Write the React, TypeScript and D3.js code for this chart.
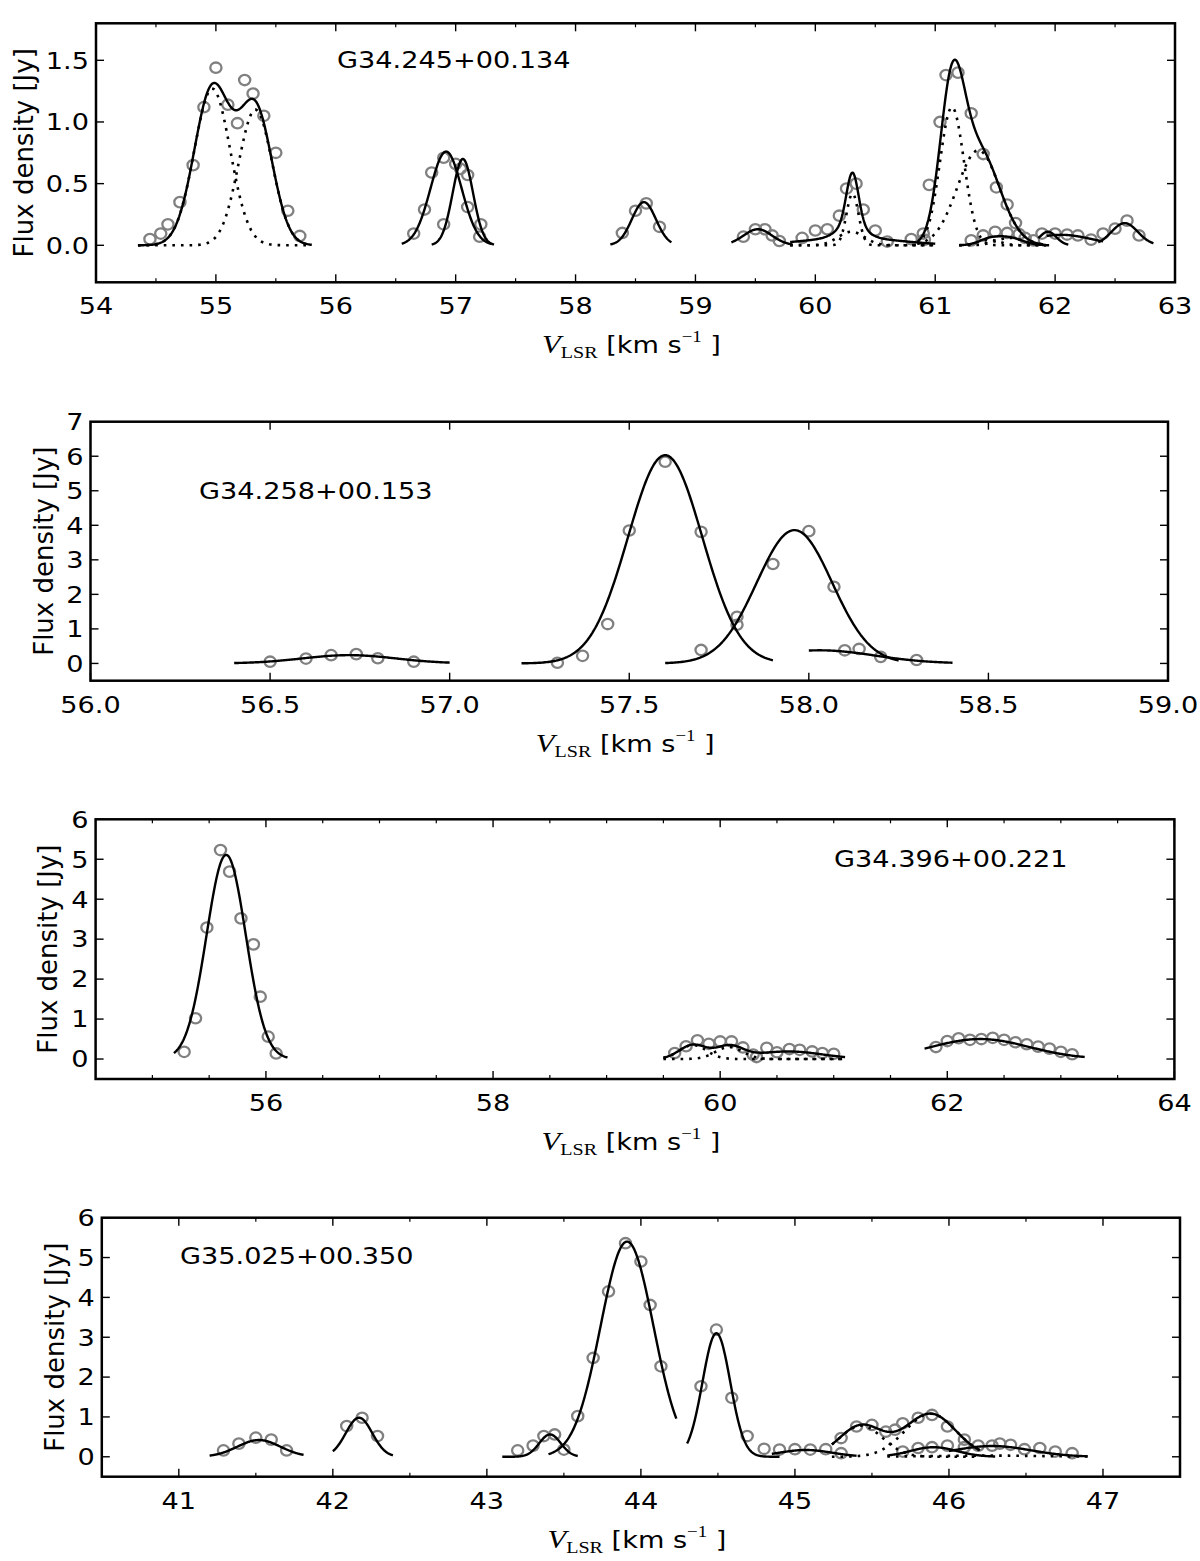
import React from 'react';
import * as d3 from 'd3';

// ---------------- DATA ----------------
// Each point: [V_LSR (km/s), flux density (Jy)]
// Each fit component: [amplitude (Jy), centre (km/s), sigma (km/s)]

// Panel 1: G34.245+00.134
const p1Name = 'G34.245+00.134';
const p1Points: [number, number][] = [
  [54.45, 0.05], [54.54, 0.095], [54.60, 0.17], [54.70, 0.35], [54.81, 0.65], [54.90, 1.12], [55.00, 1.44],
  [55.10, 1.14], [55.18, 0.99], [55.24, 1.34], [55.31, 1.23], [55.40, 1.05], [55.50, 0.75], [55.60, 0.28], [55.70, 0.076],
  [56.65, 0.095], [56.74, 0.29], [56.80, 0.59], [56.90, 0.71], [56.90, 0.17], [57.00, 0.66], [57.04, 0.62],
  [57.10, 0.57], [57.10, 0.31], [57.21, 0.17], [57.20, 0.07],
  [58.39, 0.10], [58.50, 0.28], [58.59, 0.34], [58.70, 0.15],
  [59.40, 0.07], [59.50, 0.13], [59.58, 0.13], [59.64, 0.08], [59.70, 0.035],
  [59.89, 0.06], [60.00, 0.12], [60.10, 0.13], [60.20, 0.24], [60.26, 0.46], [60.34, 0.50], [60.40, 0.29],
  [60.50, 0.12], [60.60, 0.03], [60.80, 0.05], [60.90, 0.095], [60.91, 0.046],
  [60.95, 0.49], [61.04, 1.00], [61.09, 1.38], [61.19, 1.40], [61.30, 1.07], [61.40, 0.74], [61.51, 0.47],
  [61.60, 0.33], [61.67, 0.18],
  [61.30, 0.04], [61.40, 0.08], [61.50, 0.11], [61.60, 0.10], [61.70, 0.09], [61.75, 0.06], [61.82, 0.04],
  [61.89, 0.095], [62.00, 0.095], [62.10, 0.087], [62.19, 0.08], [62.30, 0.046], [62.40, 0.095], [62.50, 0.135],
  [62.60, 0.20], [62.70, 0.08],
];
const p1FitRanges: [number, number][] = [
  [54.35, 55.8], [56.55, 57.3], [56.8, 57.32], [58.29, 58.8], [59.3, 59.81], [59.79, 61.0],
  [60.85, 61.9], [61.2, 61.95], [61.86, 62.11], [61.93, 62.4], [62.36, 62.82],
];
const p1FitComps: [number, number, number][][] = [
  [[1.27, 54.97, 0.15], [1.1, 55.33, 0.14]],
  [[0.76, 56.92, 0.13]],
  [[0.70, 57.06, 0.085]],
  [[0.35, 58.57, 0.1]],
  [[0.13, 59.52, 0.12]],
  [[0.42, 60.31, 0.05], [0.11, 60.3, 0.11], [0.06, 60.3, 0.4]],
  [[1.12, 61.14, 0.1], [0.77, 61.36, 0.177]],
  [[0.045, 61.45, 0.09], [0.06, 61.62, 0.11]],
  [[0.11, 61.94, 0.07]],
  [[0.085, 62.05, 0.25]],
  [[0.18, 62.58, 0.11]],
];
const p1FitDotted: number[][] = [[0, 1], [], [], [], [], [0, 1], [0, 1], [0, 1], [], [], []];
const p1XTicks = [54, 55, 56, 57, 58, 59, 60, 61, 62, 63];
const p1XMinor = [54.5, 55.5, 56.5, 57.5, 58.5, 59.5, 60.5, 61.5, 62.5];
const p1YTicks = [0, 0.5, 1.0, 1.5];

// Panel 2: G34.258+00.153
const p2Name = 'G34.258+00.153';
const p2Points: [number, number][] = [
  [56.50, 0.05], [56.60, 0.14], [56.67, 0.24], [56.74, 0.27], [56.80, 0.15], [56.90, 0.05],
  [57.30, 0.02], [57.37, 0.22], [57.44, 1.14], [57.50, 3.85], [57.60, 5.84], [57.70, 3.81], [57.70, 0.39],
  [57.80, 1.35], [57.80, 1.12], [57.90, 2.88], [58.00, 3.83], [58.07, 2.22], [58.10, 0.38], [58.14, 0.42],
  [58.20, 0.19], [58.30, 0.10],
];
const p2FitRanges: [number, number][] = [[56.4, 57.0], [57.2, 57.9], [57.6, 58.25], [58.0, 58.4]];
const p2FitComps: [number, number, number][][] = [
  [[0.24, 56.72, 0.13]],
  [[6.03, 57.60, 0.1035]],
  [[3.86, 57.96, 0.105]],
  [[0.38, 58.03, 0.153]],
];
const p2FitDotted: number[][] = [[], [], [], []];
const p2XTicks = [56.0, 56.5, 57.0, 57.5, 58.0, 58.5, 59.0];
const p2XMinor: number[] = [];
const p2YTicks = [0, 1, 2, 3, 4, 5, 6, 7];

// Panel 3: G34.396+00.221
const p3Name = 'G34.396+00.221';
const p3Points: [number, number][] = [
  [55.28, 0.18], [55.38, 1.02], [55.48, 3.29], [55.60, 5.23], [55.68, 4.69], [55.78, 3.52], [55.89, 2.87],
  [55.95, 1.56], [56.02, 0.56], [56.09, 0.14],
  [59.60, 0.15], [59.70, 0.32], [59.80, 0.47], [59.90, 0.38], [60.00, 0.44], [60.10, 0.44], [60.20, 0.29],
  [60.29, 0.11], [60.32, 0.05], [60.41, 0.28], [60.50, 0.17], [60.61, 0.25], [60.70, 0.23], [60.81, 0.19],
  [60.90, 0.15], [61.00, 0.13],
  [61.90, 0.30], [62.00, 0.45], [62.10, 0.52], [62.20, 0.48], [62.30, 0.50], [62.40, 0.53], [62.50, 0.48],
  [62.60, 0.42], [62.70, 0.37], [62.80, 0.31], [62.90, 0.26], [63.00, 0.18], [63.10, 0.12],
];
const p3FitRanges: [number, number][] = [[55.19, 56.19], [59.5, 61.1], [61.8, 63.21]];
const p3FitComps: [number, number, number][][] = [
  [[5.11, 55.65, 0.173]],
  [[0.35, 59.76, 0.12], [0.30, 60.08, 0.12], [0.19, 60.6, 0.3]],
  [[0.5, 62.29, 0.43]],
];
const p3FitDotted: number[][] = [[], [0, 1], []];
const p3XTicks = [56, 58, 60, 62, 64];
const p3XMinor = [55, 55.5, 56.5, 57, 57.5, 58.5, 59, 59.5, 60.5, 61, 61.5, 62.5, 63, 63.5];
const p3YTicks = [0, 1, 2, 3, 4, 5, 6];

// Panel 4: G35.025+00.350
const p4Name = 'G35.025+00.350';
const p4Points: [number, number][] = [
  [41.29, 0.16], [41.39, 0.33], [41.50, 0.48], [41.60, 0.43], [41.70, 0.16],
  [42.09, 0.77], [42.19, 0.98], [42.29, 0.52],
  [43.20, 0.16], [43.30, 0.28], [43.37, 0.52], [43.44, 0.56], [43.50, 0.18],
  [43.59, 1.02], [43.69, 2.48], [43.79, 4.15], [43.90, 5.36], [44.00, 4.90], [44.06, 3.81], [44.13, 2.27],
  [44.39, 1.77], [44.49, 3.19], [44.59, 1.48], [44.69, 0.52], [44.80, 0.20],
  [44.90, 0.18], [45.00, 0.19], [45.10, 0.18], [45.20, 0.19], [45.30, 0.47], [45.40, 0.76], [45.50, 0.80],
  [45.59, 0.63], [45.65, 0.68], [45.70, 0.84], [45.80, 0.98], [45.89, 1.05], [45.99, 0.76], [46.10, 0.43],
  [46.19, 0.28],
  [45.30, 0.09], [45.70, 0.13], [45.80, 0.22], [45.89, 0.24], [45.99, 0.28], [46.10, 0.24], [46.28, 0.28],
  [46.33, 0.33], [46.40, 0.30], [46.49, 0.19], [46.59, 0.22], [46.69, 0.13], [46.80, 0.09],
];
const p4FitRanges: [number, number][] = [
  [41.2, 41.81], [42.0, 42.39], [43.1, 43.59], [43.4, 44.23], [44.3, 44.9], [44.85, 45.4],
  [45.24, 46.2], [45.6, 46.3], [46.0, 46.9], [45.6, 46.9],
];
const p4FitComps: [number, number, number][][] = [
  [[0.42, 41.52, 0.139]],
  [[0.98, 42.17, 0.086]],
  [[0.56, 43.41, 0.07]],
  [[5.4, 43.91, 0.172]],
  [[3.1, 44.49, 0.09]],
  [[0.17, 45.07, 0.17]],
  [[0.78, 45.43, 0.14], [1.08, 45.88, 0.165]],
  [[0.24, 45.9, 0.15]],
  [[0.27, 46.28, 0.25]],
  [[0.03, 46.25, 0.35]],
];
const p4FitDotted: number[][] = [[], [], [], [], [], [], [0, 1], [], [], [0]];
const p4FitSolid = [true, true, true, true, true, true, true, true, true, false];
const p4XTicks = [41, 42, 43, 44, 45, 46, 47];
const p4XMinor = [41.5, 42.5, 43.5, 44.5, 45.5, 46.5];
const p4YTicks = [0, 1, 2, 3, 4, 5, 6];

// ---------------- STYLE / LAYOUT ----------------
const SANS = "'DejaVu Sans', 'Liberation Sans', sans-serif";
const SERIF = "'Liberation Serif', 'DejaVu Serif', serif";
const SX = 1.18; // horizontal text stretch seen in the reference
const TICK_FS = 23;
const TITLE_FS = 23;
const YLAB_FS = 26;
const POINT_COLOR = '#808080';

interface PanelCfg {
  left: number; right: number; top: number; bottom: number;
  xDomain: [number, number]; yDomain: [number, number];
  xTicks: number[]; xMinor: number[]; yTicks: number[];
  xFmt: string; yFmt: string;
  name: string; nameX: number; nameY: number;
  ylabX: number;
  points: [number, number][];
  ranges: [number, number][];
  comps: [number, number, number][][];
  dotted: number[][];
  solid?: boolean[];
}

const gauss = (c: [number, number, number], x: number) =>
  c[0] * Math.exp(-((x - c[1]) ** 2) / (2 * c[2] * c[2]));

function Panel({ cfg }: { cfg: PanelCfg }) {
  const xs = d3.scaleLinear().domain(cfg.xDomain).range([cfg.left, cfg.right]);
  const ys = d3.scaleLinear().domain(cfg.yDomain).range([cfg.bottom, cfg.top]);
  const line = d3.line<[number, number]>().x(d => xs(d[0])).y(d => ys(d[1]));
  const xf = d3.format(cfg.xFmt);
  const yf = d3.format(cfg.yFmt);
  const N = 160;

  const sample = (r: [number, number], f: (x: number) => number): [number, number][] =>
    d3.range(N + 1).map(i => {
      const x = r[0] + ((r[1] - r[0]) * i) / N;
      return [x, f(x)] as [number, number];
    });

  const solidPaths: string[] = [];
  const dottedPaths: string[] = [];
  cfg.ranges.forEach((r, gi) => {
    const comps = cfg.comps[gi];
    if (!cfg.solid || cfg.solid[gi]) {
      solidPaths.push(line(sample(r, x => d3.sum(comps, c => gauss(c, x))))!);
    }
    cfg.dotted[gi].forEach(ci => {
      dottedPaths.push(line(sample(r, x => gauss(comps[ci], x)))!);
    });
  });

  const cx = (cfg.left + cfg.right) / 2;
  const cy = (cfg.top + cfg.bottom) / 2;
  const MAJ = 8;
  const MIN = 4;

  return (
    <g>
      {/* data points */}
      {cfg.points.map((p, i) => (
        <ellipse key={'p' + i} cx={xs(p[0])} cy={ys(p[1])} rx={5.6} ry={5.2}
          fill="none" stroke={POINT_COLOR} strokeWidth={2.3} />
      ))}
      {/* component fits (dotted) */}
      {dottedPaths.map((d, i) => (
        <path key={'d' + i} d={d} fill="none" stroke="#000" strokeWidth={2.6}
          strokeDasharray="2.6,6" />
      ))}
      {/* total fits (solid) */}
      {solidPaths.map((d, i) => (
        <path key={'s' + i} d={d} fill="none" stroke="#000" strokeWidth={2.4} strokeLinejoin="round" />
      ))}
      {/* ticks */}
      {cfg.xTicks.map((t, i) => (
        <g key={'xt' + i}>
          <line x1={xs(t)} x2={xs(t)} y1={cfg.bottom} y2={cfg.bottom - MAJ} stroke="#000" strokeWidth={1.4} />
          <line x1={xs(t)} x2={xs(t)} y1={cfg.top} y2={cfg.top + MAJ} stroke="#000" strokeWidth={1.4} />
          <text transform={`translate(${xs(t)},${cfg.bottom + 32}) scale(${SX},1)`} textAnchor="middle"
            fontFamily={SANS} fontSize={TICK_FS}>{xf(t)}</text>
        </g>
      ))}
      {cfg.xMinor.map((t, i) => (
        <g key={'xm' + i}>
          <line x1={xs(t)} x2={xs(t)} y1={cfg.bottom} y2={cfg.bottom - MIN} stroke="#000" strokeWidth={1.2} />
          <line x1={xs(t)} x2={xs(t)} y1={cfg.top} y2={cfg.top + MIN} stroke="#000" strokeWidth={1.2} />
        </g>
      ))}
      {cfg.yTicks.map((t, i) => (
        <g key={'yt' + i}>
          <line x1={cfg.left} x2={cfg.left + MAJ} y1={ys(t)} y2={ys(t)} stroke="#000" strokeWidth={1.4} />
          <line x1={cfg.right} x2={cfg.right - MAJ} y1={ys(t)} y2={ys(t)} stroke="#000" strokeWidth={1.4} />
          <text transform={`translate(${cfg.left - 7},${ys(t) + 8.3}) scale(${SX},1)`} textAnchor="end"
            fontFamily={SANS} fontSize={TICK_FS}>{yf(t)}</text>
        </g>
      ))}
      {/* frame */}
      <rect x={cfg.left} y={cfg.top} width={cfg.right - cfg.left} height={cfg.bottom - cfg.top}
        fill="none" stroke="#000" strokeWidth={2.5} />
      {/* source name */}
      <text transform={`translate(${cfg.nameX},${cfg.nameY}) scale(${SX},1)`} fontFamily={SANS}
        fontSize={TITLE_FS}>{cfg.name}</text>
      {/* y label */}
      <text transform={`translate(${cfg.ylabX},${cy}) rotate(-90)`} textAnchor="middle"
        dominantBaseline="central" fontFamily={SANS} fontSize={YLAB_FS}>Flux density [Jy]</text>
      {/* x label */}
      <text transform={`translate(${cx - 4},${cfg.bottom + 71}) scale(${SX},1)`} textAnchor="middle">
        <tspan fontFamily={SERIF} fontStyle="italic" fontSize={26}>V</tspan>
        <tspan fontFamily={SERIF} fontSize={17} dy={5}>LSR</tspan>
        <tspan fontFamily={SANS} fontSize={23} dy={-5}> [km s</tspan>
        <tspan fontFamily={SERIF} fontSize={16} dy={-11}>−1</tspan>
        <tspan fontFamily={SANS} fontSize={23} dy={11}> ]</tspan>
      </text>
    </g>
  );
}

const panels: PanelCfg[] = [
  {
    left: 96, right: 1175, top: 23.3, bottom: 282.3,
    xDomain: [54, 63], yDomain: [-0.3, 1.8],
    xTicks: p1XTicks, xMinor: p1XMinor, yTicks: p1YTicks, xFmt: 'd', yFmt: '.1f',
    name: p1Name, nameX: 337, nameY: 68, ylabX: 24,
    points: p1Points, ranges: p1FitRanges, comps: p1FitComps, dotted: p1FitDotted,
  },
  {
    left: 90.5, right: 1168, top: 421.7, bottom: 680.7,
    xDomain: [56, 59], yDomain: [-0.5, 7],
    xTicks: p2XTicks, xMinor: p2XMinor, yTicks: p2YTicks, xFmt: '.1f', yFmt: 'd',
    name: p2Name, nameX: 199, nameY: 499, ylabX: 44,
    points: p2Points, ranges: p2FitRanges, comps: p2FitComps, dotted: p2FitDotted,
  },
  {
    left: 95.6, right: 1174.4, top: 819.3, bottom: 1079,
    xDomain: [54.5, 64], yDomain: [-0.5, 6],
    xTicks: p3XTicks, xMinor: p3XMinor, yTicks: p3YTicks, xFmt: 'd', yFmt: 'd',
    name: p3Name, nameX: 834, nameY: 867, ylabX: 48,
    points: p3Points, ranges: p3FitRanges, comps: p3FitComps, dotted: p3FitDotted,
  },
  {
    left: 101.8, right: 1180, top: 1217.7, bottom: 1476.7,
    xDomain: [40.5, 47.5], yDomain: [-0.5, 6],
    xTicks: p4XTicks, xMinor: p4XMinor, yTicks: p4YTicks, xFmt: 'd', yFmt: 'd',
    name: p4Name, nameX: 180, nameY: 1264, ylabX: 55,
    points: p4Points, ranges: p4FitRanges, comps: p4FitComps, dotted: p4FitDotted, solid: p4FitSolid,
  },
];

export default function App() {
  return (
    <svg width={1200} height={1561} viewBox="0 0 1200 1561"
      style={{ position: 'absolute', left: 0, top: 0, background: '#fff' }}>
      <rect x={0} y={0} width={1200} height={1561} fill="#fff" />
      {panels.map((p, i) => <Panel key={i} cfg={p} />)}
    </svg>
  );
}
